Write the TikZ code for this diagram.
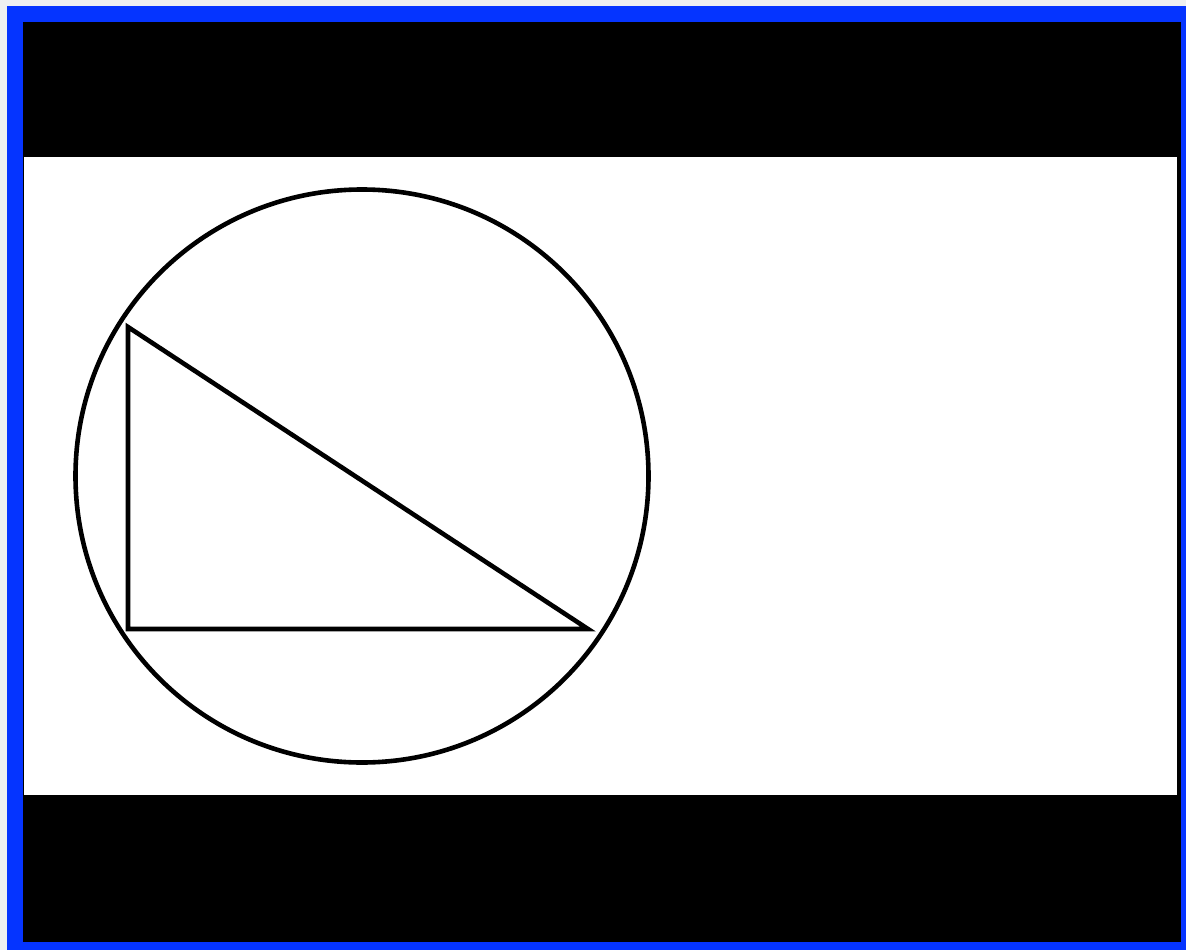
\documentclass[tikz,border=0pt]{standalone}
\definecolor{frameblue}{RGB}{5,52,255}
\definecolor{bggrey}{RGB}{238,240,241}
\tikzset{shape line/.style={draw=black, line width=4.6pt}}
\begin{document}
\begin{tikzpicture}[x=1pt,y=-1pt]
\useasboundingbox (0,0) rectangle (1186,950);
\fill[bggrey] (0,0) rectangle (1186,950);
\fill[frameblue] (7,6) rectangle (1186,950);
\fill[black] (23,22) rectangle (1181,942);
\fill[white] (24,157) rectangle (1177,795);
\coordinate (c) at (362,476);
\draw[shape line] (c) circle[radius=286.5];
\coordinate (a) at (128,327);
\coordinate (b) at (128,629);
\coordinate (d) at (588,629);
\draw[shape line, line join=miter] (a) -- (b) -- (d) -- cycle;
\end{tikzpicture}
\end{document}
